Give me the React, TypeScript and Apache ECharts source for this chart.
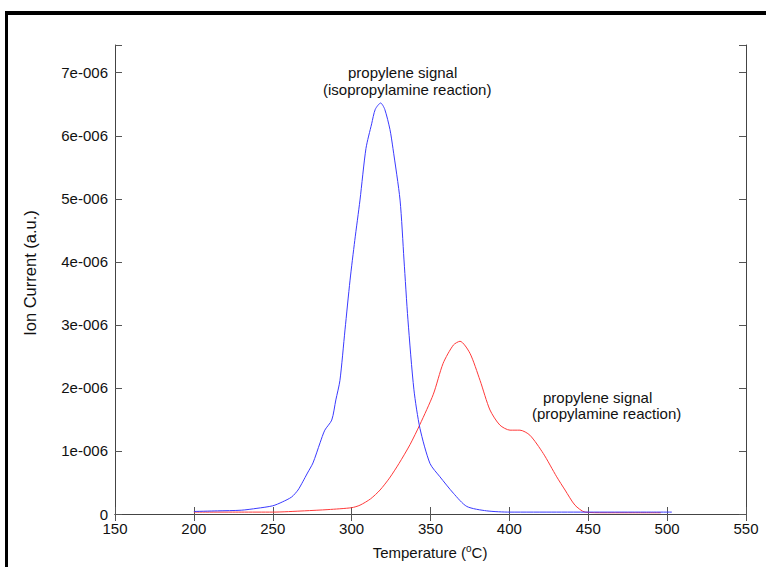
import React, { useEffect, useRef } from "react";
import * as echarts from "echarts";

// Temperature (°C) and ion current (a.u.)
const isoTemps = [200, 215, 230, 240, 250, 256, 262, 266, 269, 272, 275.5, 280, 283, 287.4, 290, 292.6, 295.8, 299, 302, 305.3, 309.1, 312.7, 315, 318.4, 321, 324.3, 326.2, 330.7, 333.2, 335.7, 339.5, 343.3, 349.7, 356, 364.5, 373, 385.6, 400.4, 430, 460, 490, 503];
const isoValues = [0.04e-6, 0.05e-6, 0.06e-6, 0.09e-6, 0.13e-6, 0.19e-6, 0.27e-6, 0.38e-6, 0.51e-6, 0.65e-6, 0.81e-6, 1.13e-6, 1.33e-6, 1.49e-6, 1.81e-6, 2.12e-6, 2.92e-6, 3.71e-6, 4.34e-6, 4.98e-6, 5.8e-6, 6.19e-6, 6.42e-6, 6.52e-6, 6.42e-6, 6.1e-6, 5.8e-6, 4.98e-6, 4.03e-6, 3.08e-6, 1.97e-6, 1.36e-6, 0.8e-6, 0.59e-6, 0.33e-6, 0.12e-6, 0.05e-6, 0.03e-6, 0.03e-6, 0.03e-6, 0.03e-6, 0.03e-6];

const proTemps = [200, 230, 250, 270, 285, 300, 305.3, 312, 318, 324, 330, 337, 343.3, 351.8, 358, 364.5, 368.7, 375, 381.4, 387.7, 394, 400.4, 406.7, 413, 421.5, 430, 435.3, 441.6, 448, 460, 480, 496];
const proValues = [0.03e-6, 0.03e-6, 0.03e-6, 0.05e-6, 0.07e-6, 0.1e-6, 0.14e-6, 0.24e-6, 0.38e-6, 0.57e-6, 0.8e-6, 1.1e-6, 1.42e-6, 1.9e-6, 2.39e-6, 2.68e-6, 2.74e-6, 2.55e-6, 2.12e-6, 1.65e-6, 1.41e-6, 1.33e-6, 1.33e-6, 1.25e-6, 0.96e-6, 0.59e-6, 0.38e-6, 0.14e-6, 0.03e-6, 0.02e-6, 0.02e-6, 0.02e-6];

const xMin = 150;
const xMax = 550;
const xStep = 50;
const yMin = 0;
const yMax = 7.44e-6;
const yStep = 1e-6;

const FONT = "Liberation Sans, Arial, sans-serif";

export default function App() {
  const ref = useRef<HTMLDivElement>(null);
  useEffect(() => {
    if (!ref.current) return;
    const chart = echarts.init(ref.current, undefined, { renderer: "svg" });
    const axisLineStyle = { color: "#444", width: 1 };
    const tickStyle = { color: "#555", width: 1 };
    const yFmt = (v: number) => {
      const k = v / yStep;
      if (Math.abs(k - Math.round(k)) > 1e-6) return "";
      if (Math.round(k) === 0) return "0";
      return `${Math.round(k)}e-006`;
    };
    chart.setOption({
      animation: false,
      backgroundColor: "#fff",
      grid: { left: 115, right: 20, top: 45, bottom: 53, containLabel: false },
      xAxis: [
        {
          type: "value", min: xMin, max: xMax, interval: xStep, position: "bottom",
          axisLine: { show: true, lineStyle: axisLineStyle },
          axisTick: { show: true, inside: true, length: 7, lineStyle: tickStyle },
          axisLabel: { show: true, margin: 7, color: "#111", fontSize: 15, fontFamily: FONT },
          splitLine: { show: false },
        },
        {
          type: "value", min: xMin, max: xMax, interval: xStep, position: "top",
          axisLine: { show: true, lineStyle: axisLineStyle },
          axisTick: { show: true, inside: true, length: 7, lineStyle: tickStyle },
          axisLabel: { show: false },
          splitLine: { show: false },
        },
      ],
      yAxis: [
        {
          type: "value", min: yMin, max: yMax, interval: yStep, position: "left",
          axisLine: { show: true, lineStyle: axisLineStyle },
          axisTick: { show: true, inside: true, length: 7, lineStyle: tickStyle },
          axisLabel: { show: true, margin: 7, color: "#111", fontSize: 15, fontFamily: FONT, formatter: yFmt },
          splitLine: { show: false },
        },
        {
          type: "value", min: yMin, max: yMax, interval: yStep, position: "right",
          axisLine: { show: true, lineStyle: axisLineStyle },
          axisTick: { show: true, inside: true, length: 7, lineStyle: tickStyle },
          axisLabel: { show: false },
          splitLine: { show: false },
        },
      ],
      series: [
        {
          name: "isopropylamine",
          type: "line",
          xAxisIndex: 0,
          yAxisIndex: 0,
          data: isoTemps.map((t, i) => [t, isoValues[i]]),
          showSymbol: false,
          smooth: 0.25,
          lineStyle: { color: "#3a3aff", width: 1 },
          itemStyle: { color: "#3a3aff" },
          z: 3,
        },
        {
          name: "propylamine",
          type: "line",
          xAxisIndex: 0,
          yAxisIndex: 0,
          data: proTemps.map((t, i) => [t, proValues[i]]),
          showSymbol: false,
          smooth: 0.25,
          lineStyle: { color: "#ff3a3a", width: 1 },
          itemStyle: { color: "#ff3a3a" },
          z: 2,
        },
      ],
      graphic: [
        { type: "rect", shape: { x: 5, y: 11, width: 761, height: 4 }, style: { fill: "#000" }, silent: true },
        { type: "rect", shape: { x: 5, y: 11, width: 3, height: 556 }, style: { fill: "#000" }, silent: true },
        {
          type: "text", x: 30, y: 273, rotation: Math.PI / 2,
          style: { text: "Ion Current (a.u.)", fill: "#111", font: `16.5px ${FONT}`, align: "center", verticalAlign: "middle" },
        },
        {
          type: "text", x: 430, y: 552,
          style: {
            text: "{a|Temperature (}{s|o}{a|C)}",
            align: "center", verticalAlign: "middle",
            rich: {
              a: { fontSize: 15, fontFamily: FONT, fill: "#111", color: "#111" },
              s: { fontSize: 10, fontFamily: FONT, fill: "#111", color: "#111", verticalAlign: "top", padding: [0, 0, 7, 0] },
            },
          },
        },
        { type: "text", x: 348, y: 72, style: { text: "propylene signal", fill: "#111", font: `15px ${FONT}`, align: "left", verticalAlign: "middle" } },
        { type: "text", x: 323, y: 89, style: { text: "(isopropylamine reaction)", fill: "#111", font: `15px ${FONT}`, align: "left", verticalAlign: "middle" } },
        { type: "text", x: 543, y: 397, style: { text: "propylene signal", fill: "#111", font: `15px ${FONT}`, align: "left", verticalAlign: "middle" } },
        { type: "text", x: 532, y: 413, style: { text: "(propylamine reaction)", fill: "#111", font: `15px ${FONT}`, align: "left", verticalAlign: "middle" } },
      ],
    });
    return () => chart.dispose();
  }, []);
  return (
    <div
      ref={ref}
      style={{ position: "fixed", left: 0, top: 0, width: 766, height: 567, background: "#fff" }}
    />
  );
}
